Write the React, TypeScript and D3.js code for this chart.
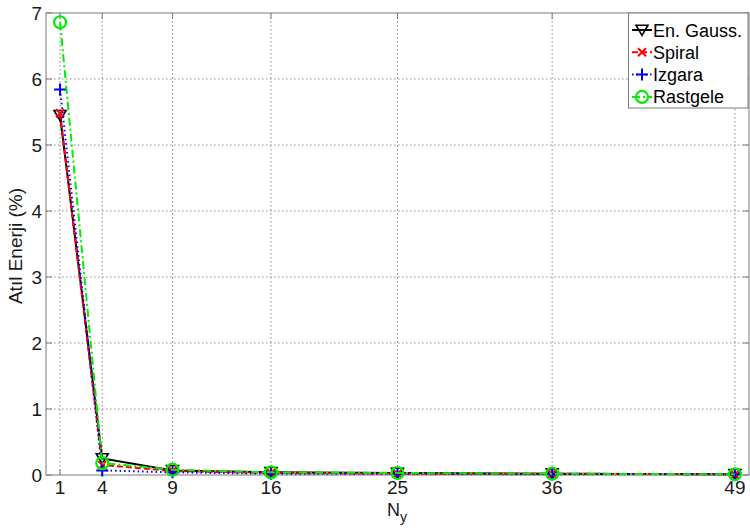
import React from "react";
import * as d3 from "d3";

const nValues = [1, 4, 9, 16, 25, 36, 49];
const yTicks = [0, 1, 2, 3, 4, 5, 6, 7];
const gaussValues = [5.45, 0.25, 0.07, 0.04, 0.03, 0.02, 0.01];
const spiralValues = [5.48, 0.15, 0.06, 0.03, 0.02, 0.02, 0.01];
const izgaraValues = [5.84, 0.07, 0.04, 0.02, 0.02, 0.01, 0.01];
const rastgeleValues = [6.86, 0.18, 0.08, 0.04, 0.03, 0.02, 0.01];

const seriesNames = ["En. Gauss.", "Spiral", "Izgara", "Rastgele"];
const seriesColors = ["#000000", "#ff0000", "#0000ff", "#00ee00"];
const seriesDash = ["none", "6,3", "1.5,3", "8,3,2,3"];
const seriesMarkers = ["tri", "x", "plus", "circle"];
const seriesValues = [gaussValues, spiralValues, izgaraValues, rastgeleValues];

const W = 750;
const H = 529;
const left = 46;
const right = 749;
const top = 13;
const bottom = 475;

function Marker({ kind, x, y, color }: { kind: string; x: number; y: number; color: string }) {
  const sw = 1.6;
  if (kind === "tri") {
    const s = 6;
    return (
      <path
        d={`M${x - s},${y - s * 0.8} L${x + s},${y - s * 0.8} L${x},${y + s * 0.9} Z`}
        fill="none"
        stroke={color}
        strokeWidth={sw}
      />
    );
  }
  if (kind === "x") {
    const s = 4;
    return (
      <path
        d={`M${x - s},${y - s} L${x + s},${y + s} M${x - s},${y + s} L${x + s},${y - s}`}
        stroke={color}
        strokeWidth={sw + 0.4}
      />
    );
  }
  if (kind === "plus") {
    const s = 6;
    return (
      <path
        d={`M${x - s},${y} L${x + s},${y} M${x},${y - s} L${x},${y + s}`}
        stroke={color}
        strokeWidth={sw + 0.4}
      />
    );
  }
  return <circle cx={x} cy={y} r={6} fill="none" stroke={color} strokeWidth={sw + 0.6} />;
}

export default function App() {
  const x = d3.scaleLinear().domain([0, 50]).range([left, right]);
  const y = d3.scaleLinear().domain([0, 7]).range([bottom, top]);
  const font = "Arial, 'Liberation Sans', sans-serif";

  const line = (vals: number[]) =>
    d3
      .line<number>()
      .x((_, i) => x(nValues[i]))
      .y((v) => y(v))(vals) || "";

  return (
    <svg
      width={W}
      height={H}
      style={{ position: "absolute", left: 0, top: 0, background: "#fff" }}
      fontFamily={font}
    >
      <rect x={0} y={0} width={W} height={H} fill="#fff" />
      {/* grid */}
      {nValues.map((v) => (
        <line
          key={`gx${v}`}
          x1={x(v)}
          x2={x(v)}
          y1={top}
          y2={bottom}
          stroke="#8a8a8a"
          strokeWidth={1}
          strokeDasharray="1.5,2.5"
        />
      ))}
      {yTicks.slice(1, -1).map((v) => (
        <line
          key={`gy${v}`}
          x1={left}
          x2={right}
          y1={y(v)}
          y2={y(v)}
          stroke="#8a8a8a"
          strokeWidth={1}
          strokeDasharray="1.5,2.5"
        />
      ))}
      {/* axes box */}
      <rect x={left} y={top} width={right - left} height={bottom - top} fill="none" stroke="#7a7a7a" strokeWidth={1} />
      {/* ticks */}
      {nValues.map((v) => (
        <g key={`tx${v}`}>
          <line x1={x(v)} x2={x(v)} y1={bottom} y2={bottom - 6} stroke="#7a7a7a" />
          <line x1={x(v)} x2={x(v)} y1={top} y2={top + 6} stroke="#7a7a7a" />
          <text x={x(v)} y={bottom + 19} fontSize={19} textAnchor="middle" fill="#1a1a1a">
            {v}
          </text>
        </g>
      ))}
      {yTicks.map((v) => (
        <g key={`ty${v}`}>
          <line x1={left} x2={left + 6} y1={y(v)} y2={y(v)} stroke="#7a7a7a" />
          <line x1={right} x2={right - 6} y1={y(v)} y2={y(v)} stroke="#7a7a7a" />
          <text x={left - 4} y={y(v) + 7} fontSize={19} textAnchor="end" fill="#1a1a1a">
            {v}
          </text>
        </g>
      ))}
      {/* axis labels */}
      <text x={397} y={516} fontSize={18} textAnchor="middle" fill="#1a1a1a">
        N
        <tspan fontSize={14} dy={6}>
          y
        </tspan>
      </text>
      <text
        transform={`translate(22,${(top + bottom) / 2 + 2}) rotate(-90)`}
        fontSize={19}
        textAnchor="middle"
        fill="#1a1a1a"
      >
        Atıl Enerji (%)
      </text>
      {/* series */}
      {seriesValues.map((vals, si) => (
        <g key={`s${si}`}>
          <path
            d={line(vals)}
            fill="none"
            stroke={seriesColors[si]}
            strokeWidth={2}
            strokeDasharray={seriesDash[si] === "none" ? undefined : seriesDash[si]}
          />
          {vals.map((v, i) => (
            <Marker key={i} kind={seriesMarkers[si]} x={x(nValues[i])} y={y(v)} color={seriesColors[si]} />
          ))}
        </g>
      ))}
      {/* legend */}
      <g>
        <rect x={628.5} y={13} width={119.5} height={95} fill="#fff" stroke="#7a7a7a" strokeWidth={1} />
        {seriesNames.map((name, i) => {
          const cy = 30 + i * 22.3;
          return (
            <g key={name}>
              <line
                x1={632}
                x2={652}
                y1={cy}
                y2={cy}
                stroke={seriesColors[i]}
                strokeWidth={2}
                strokeDasharray={seriesDash[i] === "none" ? undefined : seriesDash[i]}
              />
              <Marker kind={seriesMarkers[i]} x={642} y={cy} color={seriesColors[i]} />
              <text x={653} y={cy + 6.5} fontSize={18} fill="#000">
                {name}
              </text>
            </g>
          );
        })}
      </g>
    </svg>
  );
}
